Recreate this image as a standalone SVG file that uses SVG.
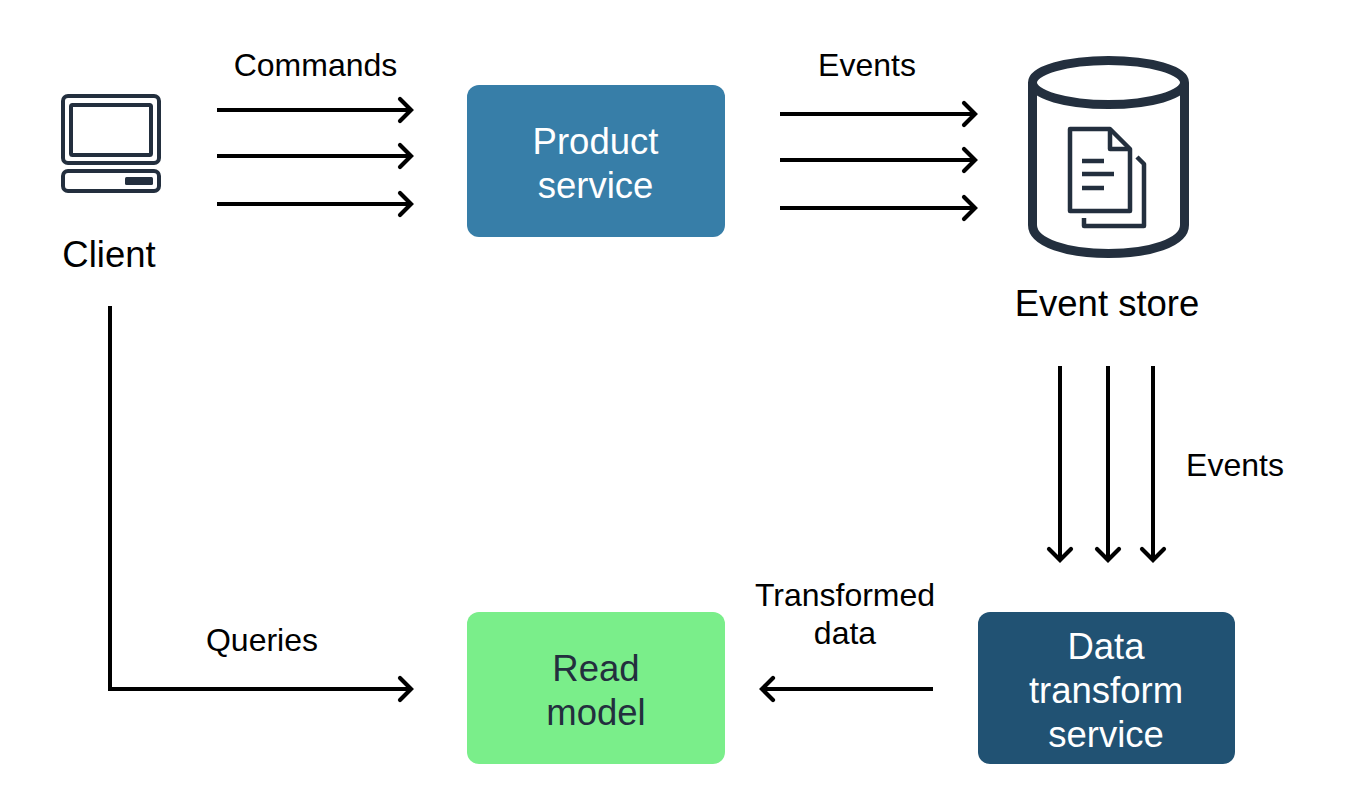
<svg xmlns="http://www.w3.org/2000/svg" width="1346" height="808" viewBox="0 0 1346 808">
<defs>
<marker id="arrow" markerUnits="userSpaceOnUse" markerWidth="28" markerHeight="32" refX="20" refY="16" orient="auto">
<path d="M9 5 L20 16 L9 27" fill="none" stroke="#000" stroke-width="4.200" stroke-linecap="round"/>
</marker>
</defs>
<style>
text{font-family:"Helvetica","Liberation Sans",Arial,sans-serif;text-anchor:middle}
.lbl{font-size:32px;fill:#000}
.node{font-size:36.500px}
.edge{fill:none;stroke:#000;stroke-width:4;marker-end:url(#arrow)}
.ic{fill:none;stroke:#232f3e;stroke-linejoin:round}
</style>
<rect width="1346" height="808" fill="#fff"/>
<g id="connectors">
<path class="edge" d="M217 110H411"/>
<path class="edge" d="M217 156H411"/>
<path class="edge" d="M217 204H411"/>
<path class="edge" d="M780 114H975"/>
<path class="edge" d="M780 160H975"/>
<path class="edge" d="M780 208H975"/>
<path class="edge" d="M1060 366V560"/>
<path class="edge" d="M1108 366V560"/>
<path class="edge" d="M1153 366V560"/>
<path class="edge" d="M933 689H762"/>
<path class="edge" d="M110 306V689H411"/>
</g>
<g id="client">
<rect class="ic" x="63" y="96" width="96" height="67" rx="5" stroke-width="4"/>
<rect class="ic" x="71" y="105" width="80" height="50" rx="1.500" stroke-width="4"/>
<rect class="ic" x="63" y="171" width="96" height="20" rx="5" stroke-width="4"/>
<rect x="125" y="177" width="28" height="8" rx="1.500" fill="#232f3e"/>
<text class="node" x="109" y="266.500" fill="#000">Client</text>
</g>
<g id="product-service">
<rect x="467" y="85" width="258" height="152" rx="12" fill="#377ea8"/>
<text class="node" x="595.500" y="153.500" fill="#fff">Product</text>
<text class="node" x="595.500" y="197.500" fill="#fff">service</text>
</g>
<g id="event-store">
<ellipse class="ic" cx="1108.500" cy="82.500" rx="76" ry="22" stroke-width="9"/>
<path class="ic" d="M1032.500 83V225C1032.500 243 1068 253.500 1108.500 253.500S1184.500 243 1184.500 225V83" stroke-width="9"/>
<path class="ic" d="M1070 129H1110L1130 149V211H1070Z" stroke-width="4.500"/>
<path class="ic" d="M1110 129V149H1130" stroke-width="4.500"/>
<path class="ic" d="M1082 161H1104M1082 174H1114M1082 188H1104" stroke-width="4.500"/>
<path class="ic" d="M1137 157L1144 164V226H1084V218" stroke-width="4.500"/>
<text class="node" x="1107" y="315.500" fill="#000">Event store</text>
</g>
<g id="data-transform-service">
<rect x="978" y="612" width="257" height="152" rx="12" fill="#215273"/>
<text class="node" x="1106" y="658.500" fill="#fff">Data</text>
<text class="node" x="1106" y="702.500" fill="#fff">transform</text>
<text class="node" x="1106" y="746.500" fill="#fff">service</text>
</g>
<g id="read-model">
<rect x="467" y="612" width="258" height="152" rx="12" fill="#7aee8a"/>
<text class="node" x="596" y="680.500" fill="#232f3e">Read</text>
<text class="node" x="596" y="724.500" fill="#232f3e">model</text>
</g>
<g id="labels">
<text class="lbl" x="315.500" y="75.500">Commands</text>
<text class="lbl" x="867" y="76">Events</text>
<text class="lbl" x="1235" y="476">Events</text>
<text class="lbl" x="262" y="651">Queries</text>
<text class="lbl" x="845" y="606">Transformed</text>
<text class="lbl" x="845" y="644">data</text>
</g>
</svg>
